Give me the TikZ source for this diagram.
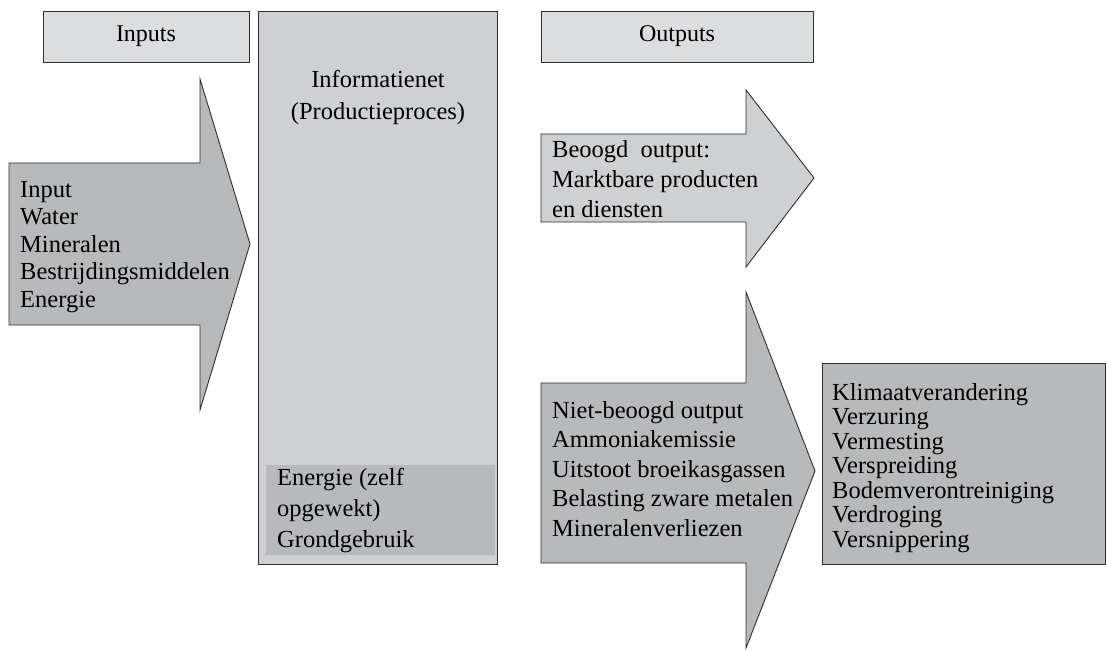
\documentclass[tikz,border=0pt]{standalone}
\usepackage{fontspec}
\setmainfont{Liberation Serif}

\definecolor{lightgrey}{HTML}{DCDDDF}
\definecolor{midgrey}{HTML}{CFD0D2}
\definecolor{darkgrey}{HTML}{B8B9BB}
\definecolor{edgegrey}{HTML}{2E2E2E}

\tikzset{
  shapeline/.style={draw=edgegrey,line width=0.9pt},
  header/.style={shapeline,fill=lightgrey,inner sep=0pt,minimum height=51pt,
    font=\fontsize{24}{27}\selectfont},
  txt/.style={anchor=base west,align=left,inner sep=0pt,
    font=\fontsize{24.5}{#1}\selectfont},
  txt/.default=27
}

\begin{document}
\begin{tikzpicture}[x=1pt,y=-1pt]
  \useasboundingbox (0,0) rectangle (1106,650);

  % headers
  \node[header,minimum width=206pt] (inputs) at (146,36.5) {Inputs};
  \node[header,minimum width=272pt] (outputs) at (677,36.5) {Outputs};

  % production process
  \draw[shapeline,fill=midgrey] (258,11) rectangle (497,564);
  \fill[darkgrey] (266,465) rectangle (495,555);
  \node[anchor=base,align=center,inner sep=0pt,font=\fontsize{24.5}{32}\selectfont]
    (proces) at (378,120) {Informatienet\\(Productieproces)};
  \node[txt=31] (eigen) at (277,547) {Energie (zelf\\opgewekt)\\Grondgebruik};

  % arrows
  \draw[shapeline,fill=darkgrey] (9,163) -- (200,163) -- (200,79) -- (250,244)
    -- (200,410) -- (200,325) -- (9,325) -- cycle;
  \draw[shapeline,fill=midgrey] (541,134) -- (746,134) -- (746,90) -- (814,178)
    -- (746,267) -- (746,222) -- (541,222) -- cycle;
  \draw[shapeline,fill=darkgrey] (541,383) -- (746,383) -- (746,292) -- (815,471)
    -- (746,648) -- (746,563) -- (541,563) -- cycle;

  % effects
  \draw[shapeline,fill=darkgrey] (822,363) rectangle (1105,564);

  % texts (anchored at the baseline of the last line)
  \node[txt=27.5] (input) at (20,307)
    {Input\\Water\\Mineralen\\Bestrijdingsmiddelen\\Energie};
  \node[txt=30] (beoogd) at (552,217)
    {Beoogd\ \ output:\\Marktbare producten\\en diensten};
  \node[txt=29.5] (nietbeoogd) at (552,536)
    {Niet-beoogd output\\Ammoniakemissie\\Uitstoot broeikasgassen\\Belasting zware metalen\\Mineralenverliezen};
  \node[txt=24.5] (effecten) at (832,547)
    {Klimaatverandering\\Verzuring\\Vermesting\\Verspreiding\\Bodemverontreiniging\\Verdroging\\Versnippering};
\end{tikzpicture}
\end{document}
